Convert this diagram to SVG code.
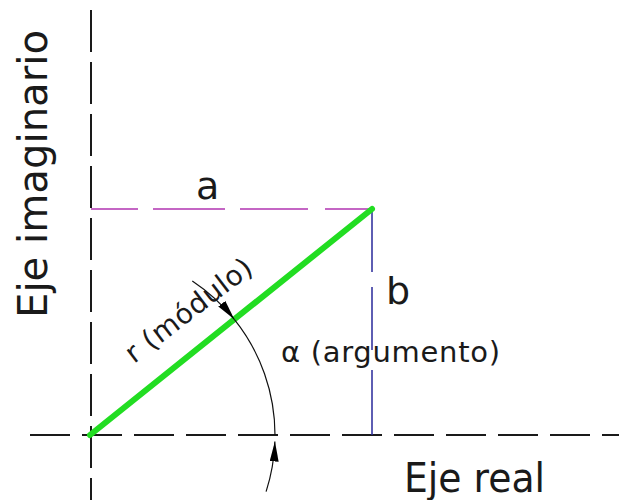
<svg xmlns="http://www.w3.org/2000/svg" width="619" height="500" viewBox="0 0 619 500">
<defs>
<style>
.lbl{font-family:"DejaVu Sans","Verdana",sans-serif;fill:#1a1a1a}
.axis{stroke:#1a1a1a;stroke-width:2;fill:none;stroke-dasharray:42 10}
.arc{stroke:#111;stroke-width:1.2;fill:none}
</style>
<marker id="arrow" viewBox="0 0 20 9" markerUnits="userSpaceOnUse" markerWidth="20" markerHeight="9" refX="20" refY="4.5" orient="auto">
<path d="M0,0 L20,4.5 L0,9 z" fill="#000"/>
</marker>
</defs>
<rect width="619" height="500" fill="#fff"/>
<g id="connectors">
<line id="eje-imaginario-line" class="axis" x1="91" y1="10" x2="91" y2="500"/>
<line id="eje-real-line" class="axis" x1="30" y1="435" x2="619" y2="435" style="stroke-dasharray:40 12"/>
<path id="a-line" d="M91,209 H138 M153,209 H225 M240,209 H308 M325,209 H372" stroke="#c466c4" stroke-width="2" fill="none"/>
<path id="b-line" d="M372,209 V272 M372,287 V350 M372,370 V435" stroke="#2a2a9a" stroke-width="1.5" fill="none"/>
<line id="r-line" x1="90" y1="435" x2="372" y2="209" stroke="#22dd22" stroke-width="6" stroke-linecap="round"/>
<path id="arc-top" class="arc" d="M192.3,280.9 A185,185 0 0 1 234.3,319.3" marker-end="url(#arrow)"/>
<path id="arc-mid" class="arc" d="M234.3,319.3 A185,185 0 0 1 275,435"/>
<path id="arc-bottom" class="arc" d="M266.1,491.6 A185,185 0 0 0 274.9,441.5" marker-end="url(#arrow)"/>
</g>
<g id="label-eje-imaginario"><text class="lbl" font-size="40" transform="translate(47,318) rotate(-90)" textLength="288" lengthAdjust="spacingAndGlyphs">Eje imaginario</text></g>
<g id="label-eje-real"><text class="lbl" font-size="40" x="404" y="492" textLength="141" lengthAdjust="spacingAndGlyphs">Eje real</text></g>
<g id="label-a"><text class="lbl" font-size="38" x="196" y="199">a</text></g>
<g id="label-b"><text class="lbl" font-size="38" x="386" y="304">b</text></g>
<g id="label-r"><text class="lbl" font-size="28" transform="translate(134,364) rotate(-37.5)" textLength="152" lengthAdjust="spacing">r (módulo)</text></g>
<g id="label-alpha"><text class="lbl" font-size="29" x="281" y="362" textLength="219" lengthAdjust="spacing">α (argumento)</text></g>
</svg>
